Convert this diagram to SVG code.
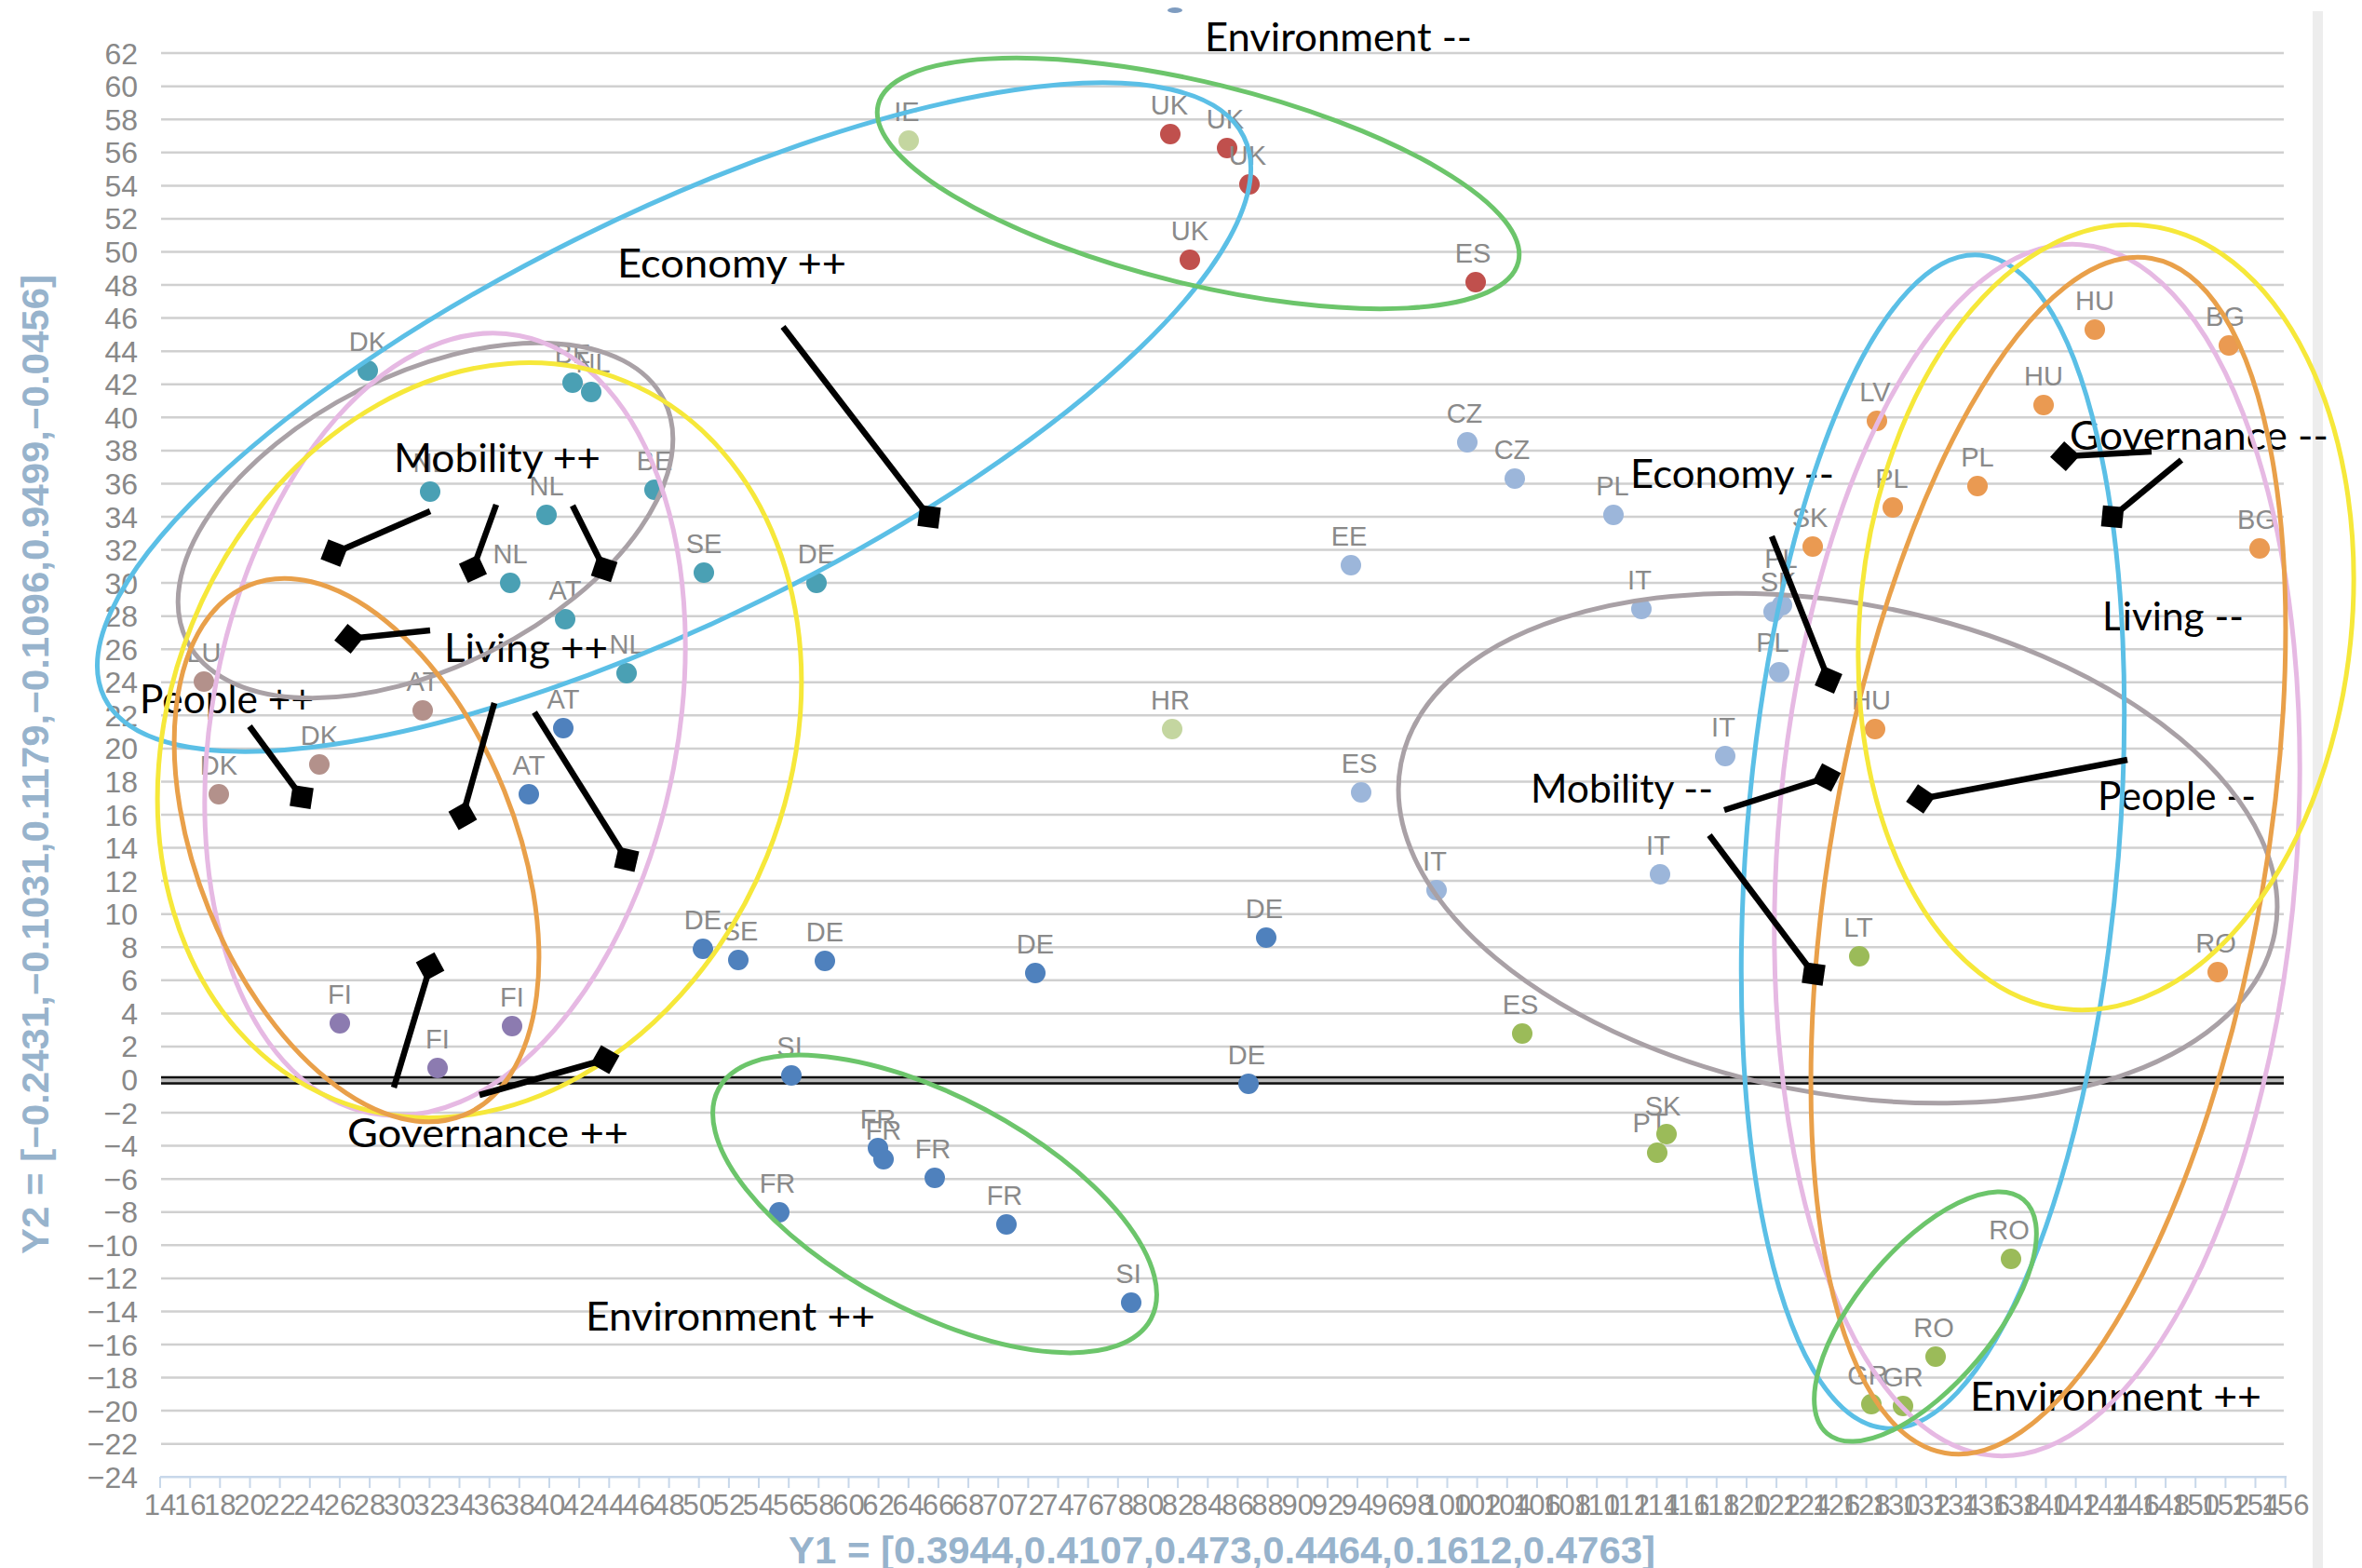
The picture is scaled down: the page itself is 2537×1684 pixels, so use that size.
<svg xmlns="http://www.w3.org/2000/svg" width="2537" height="1684" viewBox="0 0 2537 1684">
<style>
.grid{stroke:#d0d0d0;stroke-width:2.5;fill:none}
.yt{font-family:"Liberation Sans",Arial,sans-serif;font-size:32px;fill:#888;text-anchor:end}
.xt{font-family:"Liberation Sans",Arial,sans-serif;font-size:31px;fill:#8a8a8a;text-anchor:middle}
.ttl{font-family:"Liberation Sans",Arial,sans-serif;font-size:40px;font-weight:bold;fill:#97b3cc}
.lbl{font-family:"Liberation Sans",Arial,sans-serif;font-size:29px;fill:#8a8a8a;text-anchor:middle}
.ann{font-family:Lato,"Liberation Sans",sans-serif;font-size:42px;fill:#000}
.ell{fill:none;stroke-width:5}
.ptr{stroke:#000;stroke-width:6.5;fill:none;marker-end:url(#dia)}
.teal{fill:#4aa0b4}.brown{fill:#b3918b}.steel{fill:#4f81bd}.purple{fill:#8c7bb0}
.red{fill:#c0504d}.lgreen{fill:#c4d6a0}.lblue{fill:#9cb6da}.orange{fill:#ea9a52}.olive{fill:#9bbb59}
</style>
<defs>
<marker id="dia" viewBox="-17 -17 34 34" markerWidth="34" markerHeight="34" markerUnits="userSpaceOnUse" refX="0" refY="0" orient="auto">
<path d="M-16,0 L0,-16 L16,0 L0,16 Z" fill="#000"/>
</marker>
</defs>
<rect x="0" y="0" width="2537" height="1684" fill="#fff"/>
<rect x="2484" y="12" width="11" height="1672" fill="#ededed"/>

<g id="gridlines">
<path class="grid" d="M173,57.1H2453M173,92.7H2453M173,128.3H2453M173,163.8H2453M173,199.4H2453M173,234.9H2453M173,270.5H2453M173,306.1H2453M173,341.6H2453M173,377.2H2453M173,412.7H2453M173,448.3H2453M173,483.9H2453M173,519.4H2453M173,555H2453M173,590.5H2453M173,626.1H2453M173,661.7H2453M173,697.2H2453M173,732.8H2453M173,768.3H2453M173,803.9H2453M173,839.5H2453M173,875H2453M173,910.6H2453M173,946.1H2453M173,981.7H2453M173,1017.3H2453M173,1052.8H2453M173,1088.4H2453M173,1123.9H2453M173,1195.1H2453M173,1230.6H2453M173,1266.2H2453M173,1301.7H2453M173,1337.3H2453M173,1372.9H2453M173,1408.4H2453M173,1444H2453M173,1479.5H2453M173,1515.1H2453M173,1550.7H2453"/>
<path d="M173,1160.5H2453" stroke="#bbb" stroke-width="9"/>
<path d="M173,1157H2453M173,1163.5H2453" stroke="#111" stroke-width="2.5"/>
<path d="M172,1586.2H2456" stroke="#c8d8ea" stroke-width="2.5"/>
<path d="M172,1586v12M204.2,1586v12M236.3,1586v12M268.5,1586v12M300.6,1586v12M332.8,1586v12M364.9,1586v12M397.1,1586v12M429.2,1586v12M461.4,1586v12M493.5,1586v12M525.7,1586v12M557.8,1586v12M590,1586v12M622.1,1586v12M654.3,1586v12M686.4,1586v12M718.6,1586v12M750.7,1586v12M782.9,1586v12M815,1586v12M847.2,1586v12M879.3,1586v12M911.5,1586v12M943.6,1586v12M975.8,1586v12M1007.9,1586v12M1040.1,1586v12M1072.2,1586v12M1104.4,1586v12M1136.5,1586v12M1168.7,1586v12M1200.8,1586v12M1233,1586v12M1265.1,1586v12M1297.3,1586v12M1329.4,1586v12M1361.6,1586v12M1393.7,1586v12M1425.9,1586v12M1458,1586v12M1490.2,1586v12M1522.3,1586v12M1554.5,1586v12M1586.6,1586v12M1618.8,1586v12M1650.9,1586v12M1683.1,1586v12M1715.2,1586v12M1747.4,1586v12M1779.5,1586v12M1811.7,1586v12M1843.8,1586v12M1876,1586v12M1908.1,1586v12M1940.3,1586v12M1972.4,1586v12M2004.6,1586v12M2036.7,1586v12M2068.9,1586v12M2101,1586v12M2133.2,1586v12M2165.3,1586v12M2197.5,1586v12M2229.6,1586v12M2261.8,1586v12M2293.9,1586v12M2326.1,1586v12M2358.2,1586v12M2390.4,1586v12M2422.5,1586v12M2454.7,1586v12" stroke="#c8d8ea" stroke-width="2"/>
</g>

<g id="y-ticks">
<text class="yt" x="148" y="68.6">62</text><text class="yt" x="148" y="104.2">60</text><text class="yt" x="148" y="139.8">58</text><text class="yt" x="148" y="175.3">56</text><text class="yt" x="148" y="210.9">54</text><text class="yt" x="148" y="246.4">52</text><text class="yt" x="148" y="282">50</text><text class="yt" x="148" y="317.6">48</text><text class="yt" x="148" y="353.1">46</text><text class="yt" x="148" y="388.7">44</text><text class="yt" x="148" y="424.2">42</text><text class="yt" x="148" y="459.8">40</text><text class="yt" x="148" y="495.4">38</text><text class="yt" x="148" y="530.9">36</text><text class="yt" x="148" y="566.5">34</text><text class="yt" x="148" y="602">32</text><text class="yt" x="148" y="637.6">30</text><text class="yt" x="148" y="673.2">28</text><text class="yt" x="148" y="708.7">26</text><text class="yt" x="148" y="744.3">24</text><text class="yt" x="148" y="779.8">22</text><text class="yt" x="148" y="815.4">20</text><text class="yt" x="148" y="851">18</text><text class="yt" x="148" y="886.5">16</text><text class="yt" x="148" y="922.1">14</text><text class="yt" x="148" y="957.6">12</text><text class="yt" x="148" y="993.2">10</text><text class="yt" x="148" y="1028.8">8</text><text class="yt" x="148" y="1064.3">6</text><text class="yt" x="148" y="1099.9">4</text><text class="yt" x="148" y="1135.4">2</text><text class="yt" x="148" y="1171">0</text><text class="yt" x="148" y="1206.6">−2</text><text class="yt" x="148" y="1242.1">−4</text><text class="yt" x="148" y="1277.7">−6</text><text class="yt" x="148" y="1313.2">−8</text><text class="yt" x="148" y="1348.8">−10</text><text class="yt" x="148" y="1384.4">−12</text><text class="yt" x="148" y="1419.9">−14</text><text class="yt" x="148" y="1455.5">−16</text><text class="yt" x="148" y="1491">−18</text><text class="yt" x="148" y="1526.6">−20</text><text class="yt" x="148" y="1562.2">−22</text><text class="yt" x="148" y="1597.7">−24</text>
</g>

<g id="x-ticks">
<text class="xt" x="172" y="1627">14</text><text class="xt" x="204.2" y="1627">16</text><text class="xt" x="236.3" y="1627">18</text><text class="xt" x="268.5" y="1627">20</text><text class="xt" x="300.6" y="1627">22</text><text class="xt" x="332.8" y="1627">24</text><text class="xt" x="364.9" y="1627">26</text><text class="xt" x="397.1" y="1627">28</text><text class="xt" x="429.2" y="1627">30</text><text class="xt" x="461.4" y="1627">32</text><text class="xt" x="493.5" y="1627">34</text><text class="xt" x="525.7" y="1627">36</text><text class="xt" x="557.8" y="1627">38</text><text class="xt" x="590" y="1627">40</text><text class="xt" x="622.1" y="1627">42</text><text class="xt" x="654.3" y="1627">44</text><text class="xt" x="686.4" y="1627">46</text><text class="xt" x="718.6" y="1627">48</text><text class="xt" x="750.7" y="1627">50</text><text class="xt" x="782.9" y="1627">52</text><text class="xt" x="815" y="1627">54</text><text class="xt" x="847.2" y="1627">56</text><text class="xt" x="879.3" y="1627">58</text><text class="xt" x="911.5" y="1627">60</text><text class="xt" x="943.6" y="1627">62</text><text class="xt" x="975.8" y="1627">64</text><text class="xt" x="1007.9" y="1627">66</text><text class="xt" x="1040.1" y="1627">68</text><text class="xt" x="1072.2" y="1627">70</text><text class="xt" x="1104.4" y="1627">72</text><text class="xt" x="1136.5" y="1627">74</text><text class="xt" x="1168.7" y="1627">76</text><text class="xt" x="1200.8" y="1627">78</text><text class="xt" x="1233" y="1627">80</text><text class="xt" x="1265.1" y="1627">82</text><text class="xt" x="1297.3" y="1627">84</text><text class="xt" x="1329.4" y="1627">86</text><text class="xt" x="1361.6" y="1627">88</text><text class="xt" x="1393.7" y="1627">90</text><text class="xt" x="1425.9" y="1627">92</text><text class="xt" x="1458" y="1627">94</text><text class="xt" x="1490.2" y="1627">96</text><text class="xt" x="1522.3" y="1627">98</text><text class="xt" x="1554.5" y="1627">100</text><text class="xt" x="1586.6" y="1627">102</text><text class="xt" x="1618.8" y="1627">104</text><text class="xt" x="1650.9" y="1627">106</text><text class="xt" x="1683.1" y="1627">108</text><text class="xt" x="1715.2" y="1627">110</text><text class="xt" x="1747.4" y="1627">112</text><text class="xt" x="1779.5" y="1627">114</text><text class="xt" x="1811.7" y="1627">116</text><text class="xt" x="1843.8" y="1627">118</text><text class="xt" x="1876" y="1627">120</text><text class="xt" x="1908.1" y="1627">122</text><text class="xt" x="1940.3" y="1627">124</text><text class="xt" x="1972.4" y="1627">126</text><text class="xt" x="2004.6" y="1627">128</text><text class="xt" x="2036.7" y="1627">130</text><text class="xt" x="2068.9" y="1627">132</text><text class="xt" x="2101" y="1627">134</text><text class="xt" x="2133.2" y="1627">136</text><text class="xt" x="2165.3" y="1627">138</text><text class="xt" x="2197.5" y="1627">140</text><text class="xt" x="2229.6" y="1627">142</text><text class="xt" x="2261.8" y="1627">144</text><text class="xt" x="2293.9" y="1627">146</text><text class="xt" x="2326.1" y="1627">148</text><text class="xt" x="2358.2" y="1627">150</text><text class="xt" x="2390.4" y="1627">152</text><text class="xt" x="2422.5" y="1627">154</text><text class="xt" x="2454.7" y="1627">156</text>
</g>

<g id="axis-titles">
<text class="ttl" transform="translate(52,821) rotate(-90)" text-anchor="middle" textLength="1052" lengthAdjust="spacingAndGlyphs">Y2 = [−0.2431,−0.1031,0.1179,−0.1096,0.9499,−0.0456]</text>
<text class="ttl" x="847" y="1679" textLength="931" lengthAdjust="spacingAndGlyphs">Y1 = [0.3944,0.4107,0.473,0.4464,0.1612,0.4763]</text>
</g>

<g id="points">
<ellipse cx="1262" cy="11" rx="8" ry="3" fill="#7e9cc0"/>
<g id="pt-dk1"><circle class="teal" cx="395" cy="398" r="11"/><text class="lbl" x="395" y="377">DK</text></g>
<g id="pt-be1"><circle class="teal" cx="615" cy="411" r="11"/><text class="lbl" x="615" y="390">BE</text></g>
<g id="pt-nl1"><circle class="teal" cx="635" cy="421" r="11"/><text class="lbl" x="637" y="400">NL</text></g>
<g id="pt-nl2"><circle class="teal" cx="462" cy="528" r="11"/><text class="lbl" x="462" y="507">NL</text></g>
<g id="pt-nl3"><circle class="teal" cx="587" cy="553" r="11"/><text class="lbl" x="587" y="532">NL</text></g>
<g id="pt-be2"><circle class="teal" cx="703" cy="526" r="11"/><text class="lbl" x="703" y="505">BE</text></g>
<g id="pt-se1"><circle class="teal" cx="756" cy="615" r="11"/><text class="lbl" x="756" y="594">SE</text></g>
<g id="pt-nl4"><circle class="teal" cx="548" cy="626" r="11"/><text class="lbl" x="548" y="605">NL</text></g>
<g id="pt-at1"><circle class="teal" cx="607" cy="665" r="11"/><text class="lbl" x="607" y="644">AT</text></g>
<g id="pt-nl5"><circle class="teal" cx="673" cy="723" r="11"/><text class="lbl" x="673" y="702">NL</text></g>
<g id="pt-de1"><circle class="teal" cx="877" cy="626" r="11"/><text class="lbl" x="877" y="605">DE</text></g>

<g id="pt-lu"><circle class="brown" cx="219" cy="732" r="11"/><text class="lbl" x="219" y="711">LU</text></g>
<g id="pt-at2"><circle class="brown" cx="454" cy="763" r="11"/><text class="lbl" x="454" y="742">AT</text></g>
<g id="pt-dk2"><circle class="brown" cx="343" cy="821" r="11"/><text class="lbl" x="343" y="800">DK</text></g>
<g id="pt-dk3"><circle class="brown" cx="235" cy="853" r="11"/><text class="lbl" x="235" y="832">DK</text></g>

<g id="pt-at3"><circle class="steel" cx="605" cy="782" r="11"/><text class="lbl" x="605" y="761">AT</text></g>
<g id="pt-at4"><circle class="steel" cx="568" cy="853" r="11"/><text class="lbl" x="568" y="832">AT</text></g>
<g id="pt-de2"><circle class="steel" cx="755" cy="1019" r="11"/><text class="lbl" x="755" y="998">DE</text></g>
<g id="pt-se2"><circle class="steel" cx="793" cy="1031" r="11"/><text class="lbl" x="795" y="1010">SE</text></g>
<g id="pt-de3"><circle class="steel" cx="886" cy="1032" r="11"/><text class="lbl" x="886" y="1011">DE</text></g>
<g id="pt-de4"><circle class="steel" cx="1112" cy="1045" r="11"/><text class="lbl" x="1112" y="1024">DE</text></g>
<g id="pt-de5"><circle class="steel" cx="1360" cy="1007" r="11"/><text class="lbl" x="1358" y="986">DE</text></g>
<g id="pt-de6"><circle class="steel" cx="1341" cy="1164" r="11"/><text class="lbl" x="1339" y="1143">DE</text></g>
<g id="pt-si1"><circle class="steel" cx="850" cy="1155" r="11"/><text class="lbl" x="848" y="1134">SI</text></g>
<g id="pt-fr1"><circle class="steel" cx="943" cy="1233" r="11"/><text class="lbl" x="943" y="1212">FR</text></g>
<g id="pt-fr2"><circle class="steel" cx="949" cy="1245" r="11"/><text class="lbl" x="949" y="1224">FR</text></g>
<g id="pt-fr3"><circle class="steel" cx="1004" cy="1265" r="11"/><text class="lbl" x="1002" y="1244">FR</text></g>
<g id="pt-fr4"><circle class="steel" cx="837" cy="1302" r="11"/><text class="lbl" x="835" y="1281">FR</text></g>
<g id="pt-fr5"><circle class="steel" cx="1081" cy="1315" r="11"/><text class="lbl" x="1079" y="1294">FR</text></g>
<g id="pt-si2"><circle class="steel" cx="1215" cy="1399" r="11"/><text class="lbl" x="1212" y="1378">SI</text></g>

<g id="pt-fi1"><circle class="purple" cx="365" cy="1099" r="11"/><text class="lbl" x="365" y="1078">FI</text></g>
<g id="pt-fi2"><circle class="purple" cx="550" cy="1102" r="11"/><text class="lbl" x="550" y="1081">FI</text></g>
<g id="pt-fi3"><circle class="purple" cx="470" cy="1147" r="11"/><text class="lbl" x="470" y="1126">FI</text></g>

<g id="pt-uk1"><circle class="red" cx="1257" cy="144" r="11"/><text class="lbl" x="1256" y="123">UK</text></g>
<g id="pt-uk2"><circle class="red" cx="1318" cy="159" r="11"/><text class="lbl" x="1316" y="138">UK</text></g>
<g id="pt-uk3"><circle class="red" cx="1342" cy="198" r="11"/><text class="lbl" x="1340" y="177">UK</text></g>
<g id="pt-uk4"><circle class="red" cx="1278" cy="279" r="11"/><text class="lbl" x="1278" y="258">UK</text></g>
<g id="pt-es1"><circle class="red" cx="1585" cy="303" r="11"/><text class="lbl" x="1582" y="282">ES</text></g>

<g id="pt-ie"><circle class="lgreen" cx="976" cy="151" r="11"/><text class="lbl" x="974" y="130">IE</text></g>
<g id="pt-hr"><circle class="lgreen" cx="1259" cy="783" r="11"/><text class="lbl" x="1257" y="762">HR</text></g>

<g id="pt-cz1"><circle class="lblue" cx="1576" cy="475" r="11"/><text class="lbl" x="1573" y="454">CZ</text></g>
<g id="pt-cz2"><circle class="lblue" cx="1627" cy="514" r="11"/><text class="lbl" x="1624" y="493">CZ</text></g>
<g id="pt-pl1"><circle class="lblue" cx="1733" cy="553" r="11"/><text class="lbl" x="1732" y="532">PL</text></g>
<g id="pt-ee"><circle class="lblue" cx="1451" cy="607" r="11"/><text class="lbl" x="1449" y="586">EE</text></g>
<g id="pt-it1"><circle class="lblue" cx="1763" cy="654" r="11"/><text class="lbl" x="1761" y="633">IT</text></g>
<g id="pt-pl2"><circle class="lblue" cx="1914" cy="650" r="11"/><text class="lbl" x="1913" y="610">PL</text></g>
<g id="pt-sk1"><circle class="lblue" cx="1905" cy="657" r="11"/><text class="lbl" x="1910" y="635">SK</text></g>
<g id="pt-pl3"><circle class="lblue" cx="1911" cy="722" r="11"/><text class="lbl" x="1904" y="700">PL</text></g>
<g id="pt-it2"><circle class="lblue" cx="1853" cy="812" r="11"/><text class="lbl" x="1851" y="791">IT</text></g>
<g id="pt-it3"><circle class="lblue" cx="1783" cy="939" r="11"/><text class="lbl" x="1781" y="918">IT</text></g>
<g id="pt-es2"><circle class="lblue" cx="1462" cy="851" r="11"/><text class="lbl" x="1460" y="830">ES</text></g>
<g id="pt-it4"><circle class="lblue" cx="1543" cy="956" r="11"/><text class="lbl" x="1541" y="935">IT</text></g>

<g id="pt-hu1"><circle class="orange" cx="2250" cy="354" r="11"/><text class="lbl" x="2250" y="333">HU</text></g>
<g id="pt-bg1"><circle class="orange" cx="2394" cy="371" r="11"/><text class="lbl" x="2390" y="350">BG</text></g>
<g id="pt-hu2"><circle class="orange" cx="2195" cy="435" r="11"/><text class="lbl" x="2195" y="414">HU</text></g>
<g id="pt-lv"><circle class="orange" cx="2016" cy="452" r="11"/><text class="lbl" x="2014" y="431">LV</text></g>
<g id="pt-pl4"><circle class="orange" cx="2124" cy="522" r="11"/><text class="lbl" x="2124" y="501">PL</text></g>
<g id="pt-pl5"><circle class="orange" cx="2033" cy="545" r="11"/><text class="lbl" x="2032" y="524">PL</text></g>
<g id="pt-sk2"><circle class="orange" cx="1947" cy="587" r="11"/><text class="lbl" x="1944" y="566">SK</text></g>
<g id="pt-bg2"><circle class="orange" cx="2427" cy="589" r="11"/><text class="lbl" x="2424" y="568">BG</text></g>
<g id="pt-hu3"><circle class="orange" cx="2014" cy="783" r="11"/><text class="lbl" x="2010" y="762">HU</text></g>
<g id="pt-ro1"><circle class="orange" cx="2382" cy="1044" r="11"/><text class="lbl" x="2380" y="1023">RO</text></g>

<g id="pt-lt"><circle class="olive" cx="1997" cy="1027" r="11"/><text class="lbl" x="1996" y="1006">LT</text></g>
<g id="pt-es3"><circle class="olive" cx="1635" cy="1110" r="11"/><text class="lbl" x="1633" y="1089">ES</text></g>
<g id="pt-pt"><circle class="olive" cx="1780" cy="1238" r="11"/><text class="lbl" x="1772" y="1216">PT</text></g>
<g id="pt-sk3"><circle class="olive" cx="1790" cy="1218" r="11"/><text class="lbl" x="1786" y="1198">SK</text></g>
<g id="pt-ro2"><circle class="olive" cx="2160" cy="1352" r="11"/><text class="lbl" x="2158" y="1331">RO</text></g>
<g id="pt-ro3"><circle class="olive" cx="2079" cy="1457" r="11"/><text class="lbl" x="2077" y="1436">RO</text></g>
<g id="pt-gr1"><circle class="olive" cx="2010" cy="1508" r="11"/><text class="lbl" x="2006" y="1487">GR</text></g>
<g id="pt-gr2"><circle class="olive" cx="2044" cy="1510" r="11"/><text class="lbl" x="2044" y="1489">GR</text></g>
</g>

<g id="annotations">
<g id="a-env-minus"><text class="ann" x="1294" y="55" textLength="287" lengthAdjust="spacingAndGlyphs">Environment --</text></g>
<g id="a-eco-plus"><text class="ann" x="663" y="298" textLength="246" lengthAdjust="spacingAndGlyphs">Economy ++</text></g>
<g id="a-mob-plus"><text class="ann" x="423" y="507" textLength="222" lengthAdjust="spacingAndGlyphs">Mobility ++</text></g>
<g id="a-liv-plus"><text class="ann" x="477" y="711" textLength="176" lengthAdjust="spacingAndGlyphs">Living ++</text></g>
<g id="a-peo-plus"><text class="ann" x="150" y="766" textLength="187" lengthAdjust="spacingAndGlyphs">People ++</text></g>
<g id="a-gov-plus"><text class="ann" x="373" y="1232" textLength="302" lengthAdjust="spacingAndGlyphs">Governance ++</text></g>
<g id="a-env-plus1"><text class="ann" x="629" y="1429" textLength="311" lengthAdjust="spacingAndGlyphs">Environment ++</text></g>
<g id="a-eco-minus"><text class="ann" x="1751" y="524" textLength="219" lengthAdjust="spacingAndGlyphs">Economy --</text></g>
<g id="a-gov-minus"><text class="ann" x="2223" y="483" textLength="278" lengthAdjust="spacingAndGlyphs">Governance --</text></g>
<g id="a-liv-minus"><text class="ann" x="2258" y="677" textLength="152" lengthAdjust="spacingAndGlyphs">Living --</text></g>
<g id="a-peo-minus"><text class="ann" x="2253" y="870" textLength="170" lengthAdjust="spacingAndGlyphs">People --</text></g>
<g id="a-mob-minus"><text class="ann" x="1644" y="862" textLength="196" lengthAdjust="spacingAndGlyphs">Mobility --</text></g>
<g id="a-env-plus2"><text class="ann" x="2116" y="1515" textLength="313" lengthAdjust="spacingAndGlyphs">Environment ++</text></g>
</g>

<g id="ellipses">
<ellipse class="ell" stroke="#5bbfe6" transform="translate(724 448) rotate(-26.2)" rx="682" ry="218"/>
<ellipse class="ell" stroke="#6cc56b" transform="translate(1287 197) rotate(13.8)" rx="354" ry="108"/>
<ellipse class="ell" stroke="#a9a1a6" transform="translate(457 559) rotate(-26.8)" rx="287" ry="157"/>
<ellipse class="ell" stroke="#e6b9e3" stroke-width="4.5" transform="translate(478 778) rotate(10.8)" rx="250" ry="425"/>
<ellipse class="ell" stroke="#f6e83a" transform="translate(515 795) rotate(22)" rx="333" ry="416"/>
<ellipse class="ell" stroke="#e9a04a" transform="translate(383 913) rotate(-22)" rx="171" ry="307"/>
<ellipse class="ell" stroke="#6cc56b" transform="translate(1004 1293) rotate(28)" rx="263" ry="115"/>
<ellipse class="ell" stroke="#a9a1a6" transform="translate(1974 911) rotate(11)" rx="478" ry="263"/>
<ellipse class="ell" stroke="#5bbfe6" transform="translate(2076 904) rotate(4.6)" rx="200" ry="632"/>
<ellipse class="ell" stroke="#e6b9e3" stroke-width="4.5" transform="translate(2188 913) rotate(4.1)" rx="279" ry="652"/>
<ellipse class="ell" stroke="#e9a04a" transform="translate(2200 919) rotate(9.8)" rx="233" ry="651"/>
<ellipse class="ell" stroke="#f6e83a" transform="translate(2262 663) rotate(5.8)" rx="264" ry="423"/>
<ellipse class="ell" stroke="#6cc56b" transform="translate(2068 1414) rotate(-50)" rx="164" ry="73"/>
</g>

<g id="connectors">
<path class="ptr" d="M841,351 L998,555"/>
<path class="ptr" d="M462,549 L359,594"/>
<path class="ptr" d="M533,542 L508,611"/>
<path class="ptr" d="M615,543 L649,611"/>
<path class="ptr" d="M462,677 L375,686"/>
<path class="ptr" d="M531,755 L497,876"/>
<path class="ptr" d="M574,765 L673,923"/>
<path class="ptr" d="M268,780 L324,856"/>
<path class="ptr" d="M423,1168 L462,1038"/>
<path class="ptr" d="M515,1176 L650,1138"/>
<path class="ptr" d="M1903,576 L1964,730"/>
<path class="ptr" d="M2311,485 L2218,490"/>
<path class="ptr" d="M2343,494 L2269,555"/>
<path class="ptr" d="M2285,816 L2063,858"/>
<path class="ptr" d="M1852,870 L1962,835"/>
<path class="ptr" d="M1836,897 L1948,1046"/>
</g>
</svg>
